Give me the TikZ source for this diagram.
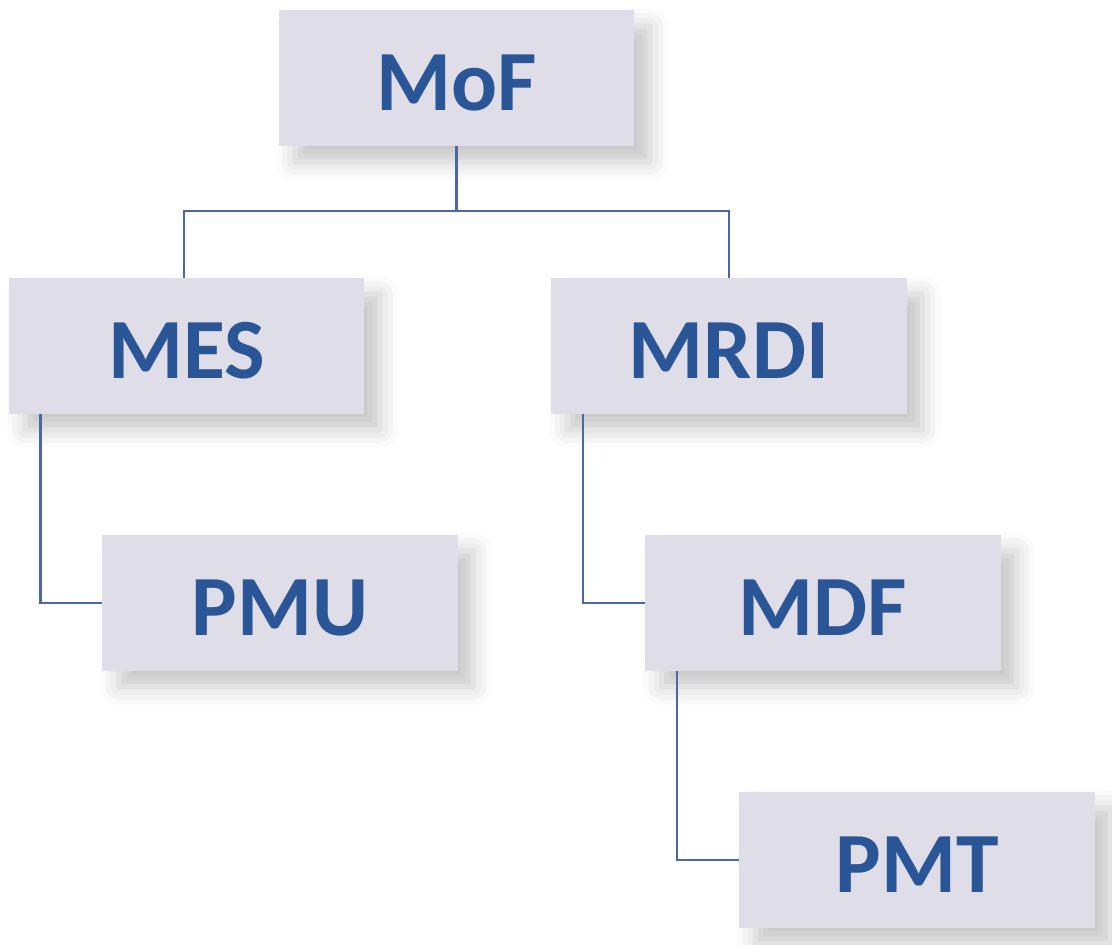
\documentclass[tikz,border=0pt]{standalone}
\usepackage{fontspec}
\setmainfont{Carlito}
\usepackage{tikz}
\usetikzlibrary{shadows.blur}

\definecolor{boxfill}{HTML}{DEDDE8}
\definecolor{boxtext}{HTML}{2A5597}
\definecolor{boxline}{HTML}{4A68A8}

\begin{document}
\begin{tikzpicture}[x=0.025cm, y=-0.025cm,
	unit/.style={fill=boxfill, minimum width=8.875cm, minimum height=3.4cm, inner sep=0pt,
		text height=1.6cm, text depth=0pt,
		text=boxtext, font=\fontsize{61}{63}\selectfont\bfseries,
		blur shadow={shadow xshift=0.4cm, shadow yshift=-0.4cm, shadow blur radius=0.45cm, shadow opacity=22}},
	link/.style={draw=boxline, line width=1.7pt}]
	\useasboundingbox (0,0) rectangle (1112,945);

	\node[unit] (MoF)  at (456.5,78) {MoF};
	\node[unit] (MES)  at (186.5,346) {MES};
	\node[unit] (MRDI) at (729,346) {MRDI};
	\node[unit] (PMU)  at (280,603) {PMU};
	\node[unit] (MDF)  at (823,603) {MDF};
	\node[unit] (PMT)  at (917,860) {PMT};

	\coordinate (fork) at (456.5,211);

	\draw [link] (MoF.south) -- (fork) -| ([xshift=-0.0625cm]MES.north);
	\draw [link] (fork) -| (MRDI.north);
	\draw [link] ([xshift=0.8cm]MES.south west) |- (PMU.west);
	\draw [link] ([xshift=0.8cm]MRDI.south west) |- (MDF.west);
	\draw [link] ([xshift=0.8cm]MDF.south west) |- (PMT.west);
\end{tikzpicture}
\end{document}
